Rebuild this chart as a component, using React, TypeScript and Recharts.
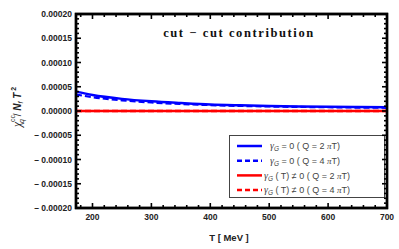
import React from "react";
import { LineChart, Line, XAxis, YAxis, ReferenceArea } from "recharts";

const temps = [172, 200, 250, 300, 350, 400, 450, 500, 550, 600, 650, 700];
const blueQ2 = [40, 33, 25, 20, 16.5, 13.5, 11.8, 10.5, 9.5, 8.7, 8.1, 7.6];
const blueQ4 = [34, 28.5, 22, 17.5, 14.5, 12.2, 10.5, 9.3, 8.4, 7.7, 7.1, 6.6];
const redQ2 = [0, 0, 0, 0, 0, 0, 0, 0, 0, 0, 0, 0];
const redQ4 = [0, 0, 0, 0, 0, 0, 0, 0, 0, 0, 0, 0];

const xMajor = [200, 300, 400, 500, 600, 700];
const yMajor = [-0.0002, -0.00015, -0.0001, -0.00005, 0, 0.00005, 0.0001, 0.00015, 0.0002];
const yLabels = ["\u2013 0.00020", "\u2013 0.00015", "\u2013 0.00010", "\u2013 0.00005", "0.00000", "0.00005", "0.00010", "0.00015", "0.00020"];

const X_MIN = 172;
const X_MAX = 700;
const Y_MIN = -0.0002;
const Y_MAX = 0.0002;

const W = 399;
const H = 249;
const M = { top: 14, right: 12, left: 0, bottom: 0 };
const Y_AXIS_W = 76;
const X_AXIS_H = 41;
const PL = M.left + Y_AXIS_W;
const PR = W - M.right;
const PT = M.top;
const PB = H - M.bottom - X_AXIS_H;

const data = temps.map((t, i) => ({
  T: t,
  b2: blueQ2[i] * 1e-6,
  b4: blueQ4[i] * 1e-6,
  r2: redQ2[i] * 1e-6,
  r4: redQ4[i] * 1e-6,
}));

const xMinor: number[] = [];
for (let k = 9; k <= 35; k++) xMinor.push(k * 20);
const yMinor: number[] = [];
for (let k = -19; k <= 19; k++) yMinor.push(k * 1e-5);

const isXMajor = (v: number) => xMajor.some((m) => Math.abs(m - v) < 1e-6);
const isYMajor = (v: number) => yMajor.some((m) => Math.abs(m - v) < 1e-9);
const sx = (v: number) => PL + ((v - X_MIN) / (X_MAX - X_MIN)) * (PR - PL);
const sy = (v: number) => PB - ((v - Y_MIN) / (Y_MAX - Y_MIN)) * (PB - PT);

const tickFont = { fontFamily: "Liberation Sans, Arial, sans-serif", fontSize: 8.5, fontWeight: 700, fill: "#222" };
const TW = 1.6;

const XLabelTick = (p: any) => (
  <text x={p.x} y={p.y + 12} textAnchor="middle" style={tickFont}>
    {p.payload.value}
  </text>
);
const YLabelTick = (p: any) => {
  const idx = yMajor.findIndex((m) => Math.abs(m - p.payload.value) < 1e-9);
  return (
    <text x={p.x - 4} y={p.y + 3} textAnchor="end" style={tickFont}>
      {idx >= 0 ? yLabels[idx] : ""}
    </text>
  );
};

const legendItems = [
  { color: "#0000ff", dash: undefined, q: "2", withT: false },
  { color: "#0000ff", dash: "5 3", q: "4", withT: false },
  { color: "#ff0000", dash: undefined, q: "2", withT: true },
  { color: "#ff0000", dash: "5 3", q: "4", withT: true },
];

const lf = { fontFamily: "Liberation Sans, Arial, sans-serif", fontSize: 9, fill: "#444" };

const LegendBox = () => (
  <svg width={156} height={63} style={{ display: "block" }}>
    <rect x={0.5} y={0.5} width={155} height={62} fill="#fff" stroke="#444" strokeWidth={1} />
    {legendItems.map((it, i) => {
      const y = 11 + i * 14.7;
      return (
        <g key={i}>
          <line x1={8} x2={33} y1={y} y2={y} stroke={it.color} strokeWidth={2.5} strokeDasharray={it.dash} />
          <text x={it.withT ? 35 : 41} y={y + 3.2} style={lf}>
            <tspan fontStyle="italic" fontFamily="Liberation Serif, serif" fontSize={10}>γ</tspan>
            <tspan fontStyle="italic" fontSize={6.5} dy={2}>G</tspan>
            <tspan dy={-2}>{it.withT ? " ( T) \u2260 0 ( Q = " + it.q + " " : " = 0 ( Q = " + it.q + " "}</tspan>
            <tspan fontStyle="italic" fontFamily="Liberation Serif, serif">π</tspan>
            <tspan>T)</tspan>
          </text>
        </g>
      );
    })}
  </svg>
);

const FrameOverlay = () => (
  <svg width={W} height={H} style={{ position: "absolute", left: 0, top: 0, pointerEvents: "none" }}>
    {xMinor.map((v) => {
      const len = isXMajor(v) ? 5 : 3;
      const x = sx(v);
      return (
        <g key={"x" + v}>
          <line x1={x} x2={x} y1={PB} y2={PB - len} stroke="#000" strokeWidth={TW} />
          <line x1={x} x2={x} y1={PT} y2={PT + len} stroke="#000" strokeWidth={TW} />
        </g>
      );
    })}
    {yMinor.map((v) => {
      const len = isYMajor(v) ? 5 : 3;
      const y = sy(v);
      return (
        <g key={"y" + v}>
          <line x1={PL} x2={PL + len} y1={y} y2={y} stroke="#000" strokeWidth={TW} />
          <line x1={PR} x2={PR - len} y1={y} y2={y} stroke="#000" strokeWidth={TW} />
        </g>
      );
    })}
    <rect x={PL} y={PT} width={PR - PL} height={PB - PT} fill="none" stroke="#000" strokeWidth={2.4} />
  </svg>
);

export default function App() {
  return (
    <div style={{ position: "fixed", left: 0, top: 0, width: W, height: H, background: "#fff" }}>
      <LineChart width={W} height={H} data={data} margin={M}>
        <XAxis
          dataKey="T"
          type="number"
          domain={[X_MIN, X_MAX]}
          ticks={xMajor}
          interval={0}
          tickSize={0}
          tickMargin={0}
          tickLine={false}
          axisLine={false}
          height={X_AXIS_H}
          tick={<XLabelTick />}
        />
        <YAxis
          type="number"
          domain={[Y_MIN, Y_MAX]}
          ticks={yMajor}
          interval={0}
          tickSize={0}
          tickMargin={0}
          tickLine={false}
          axisLine={false}
          width={Y_AXIS_W}
          tick={<YLabelTick />}
        />
        <Line dataKey="r2" stroke="#ff0000" strokeWidth={2.5} dot={false} isAnimationActive={false} type="monotone" />
        <Line dataKey="r4" stroke="#ff0000" strokeWidth={2.5} strokeDasharray="6 3" dot={false} isAnimationActive={false} type="monotone" />
        <Line dataKey="b2" stroke="#0000ff" strokeWidth={2.5} dot={false} isAnimationActive={false} type="monotone" />
        <Line dataKey="b4" stroke="#0000ff" strokeWidth={2.2} strokeDasharray="6 3" dot={false} isAnimationActive={false} type="monotone" />
        <ReferenceArea x1={X_MIN} x2={X_MAX} y1={Y_MIN} y2={Y_MAX} ifOverflow="visible" fill="none" fillOpacity={0} stroke="#000" strokeWidth={2.4} strokeOpacity={1} />
        <text x={239} y={37} textAnchor="middle" style={{ fontFamily: "Liberation Serif, Times New Roman, serif", fontSize: 12.5, fontWeight: 700, letterSpacing: 1.6, fill: "#111" }}>
          cut − cut  contribution
        </text>
        <text x={229} y={241} textAnchor="middle" style={{ fontFamily: "Liberation Sans, Arial, sans-serif", fontSize: 9.5, fontWeight: 700, fill: "#222" }}>
          T [ MeV ]
        </text>
        <text transform="translate(21,107) rotate(-90)" textAnchor="middle" style={{ fontFamily: "Liberation Sans, Arial, sans-serif", fontSize: 10, fill: "#222" }}>
          <tspan fontStyle="italic" fontFamily="Liberation Serif, serif" fontSize={11.5}>χ</tspan>
          <tspan fontSize={7} dy={-6}>cc</tspan>
          <tspan fontSize={7} dx={-8} dy={9} fontStyle="italic">q</tspan>
          <tspan dy={-3}>{"  / "}</tspan>
          <tspan fontStyle="italic" fontWeight={700}>N</tspan>
          <tspan fontSize={7} dy={2} fontStyle="italic">f</tspan>
          <tspan dy={-2} fontStyle="italic" fontWeight={700}>{" T"}</tspan>
          <tspan fontSize={7} dy={-5} fontWeight={700}>{" 2"}</tspan>
        </text>
      </LineChart>
      <div style={{ position: "absolute", left: 229, top: 135, width: 156, height: 63 }}>
        <LegendBox />
      </div>
      <FrameOverlay />
    </div>
  );
}
